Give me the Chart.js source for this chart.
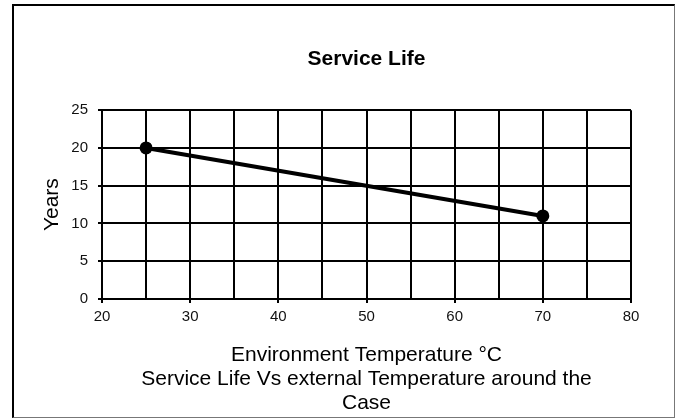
<!DOCTYPE html>
<html>
<head>
<meta charset="utf-8">
<script src="https://cdn.jsdelivr.net/npm/chart.js@4"></script>
<style>
  html, body { margin: 0; padding: 0; background: #fff; }
  #wrap { position: relative; width: 682px; height: 419px; }
  #frame { position: absolute; left: 12px; top: 4px; width: 663px; height: 414px; box-sizing: border-box;
           border-left: 2px solid #000; border-top: 2px solid #000; border-right: 1px solid #777; border-bottom: 1px solid #777;
           pointer-events: none; }
</style>
</head>
<body>
<div id="wrap">
  <canvas id="c" width="682" height="419"></canvas>
  <div id="frame"></div>
</div>
<script>
// Data
const temperatures = [25, 70];          // Environment Temperature °C
const serviceYears = [20, 11];          // Years
const xTickLabels = [20, 30, 40, 50, 60, 70, 80];
const yTickLabels = [0, 5, 10, 15, 20, 25];
const chartTitle = 'Service Life';
const xTitle = ['Environment Temperature °C', 'Service Life Vs external Temperature around the', 'Case'];
const yTitle = 'Years';

const points = temperatures.map((t, i) => ({ x: t, y: serviceYears[i] }));
const FONT = "'Liberation Sans', Arial, Helvetica, sans-serif";

new Chart(document.getElementById('c'), {
  type: 'scatter',
  data: {
    datasets: [{
      data: points,
      showLine: true,
      borderColor: '#000',
      backgroundColor: '#000',
      borderWidth: 4,
      pointRadius: 6.5,
      pointBackgroundColor: '#000',
      pointBorderWidth: 0
    }]
  },
  options: {
    responsive: false,
    animation: false,
    layout: { padding: { left: 40, right: 51, top: 0, bottom: 0 } },
    plugins: {
      legend: { display: false },
      tooltip: { enabled: false },
      title: {
        display: true,
        fullSize: false,
        text: chartTitle,
        color: '#000',
        font: { family: FONT, size: 21, weight: 'bold', lineHeight: 1.2 },
        padding: { top: 47, bottom: 38 }
      }
    },
    scales: {
      x: {
        type: 'linear',
        min: xTickLabels[0],
        max: xTickLabels[xTickLabels.length - 1],
        afterFit: s => { s.height = 120; },
        border: { display: true, color: '#000', width: 2 },
        grid: {
          color: '#000',
          lineWidth: 2,
          tickLength: 4,
          tickColor: ctx => (xTickLabels.includes(ctx.tick && ctx.tick.value) ? '#000' : 'rgba(0,0,0,0)'),
          tickWidth: 2
        },
        ticks: {
          stepSize: 5,
          padding: 5,
          color: '#111',
          font: { family: FONT, size: 15 },
          maxRotation: 0,
          autoSkip: false,
          callback: v => (xTickLabels.includes(v) ? String(v) : '')
        },
        title: {
          display: true,
          text: xTitle,
          color: '#000',
          font: { family: FONT, size: 21, lineHeight: 1.15 },
          padding: { top: 0, bottom: 3.5 }
        }
      },
      y: {
        type: 'linear',
        min: yTickLabels[0],
        max: yTickLabels[yTickLabels.length - 1],
        afterFit: s => { s.width = 62; },
        border: { display: true, color: '#000', width: 2 },
        grid: { color: '#000', lineWidth: 2, tickLength: 4, tickColor: '#000', tickWidth: 2 },
        ticks: {
          stepSize: 5,
          padding: 10,
          color: '#111',
          font: { family: FONT, size: 15 },
          callback: v => (yTickLabels.includes(v) ? String(v) : '')
        },
        title: {
          display: true,
          text: yTitle,
          color: '#000',
          font: { family: FONT, size: 21, lineHeight: 1.2 },
          padding: { top: 0, bottom: 0 }
        }
      }
    }
  }
});
</script>
</body>
</html>
